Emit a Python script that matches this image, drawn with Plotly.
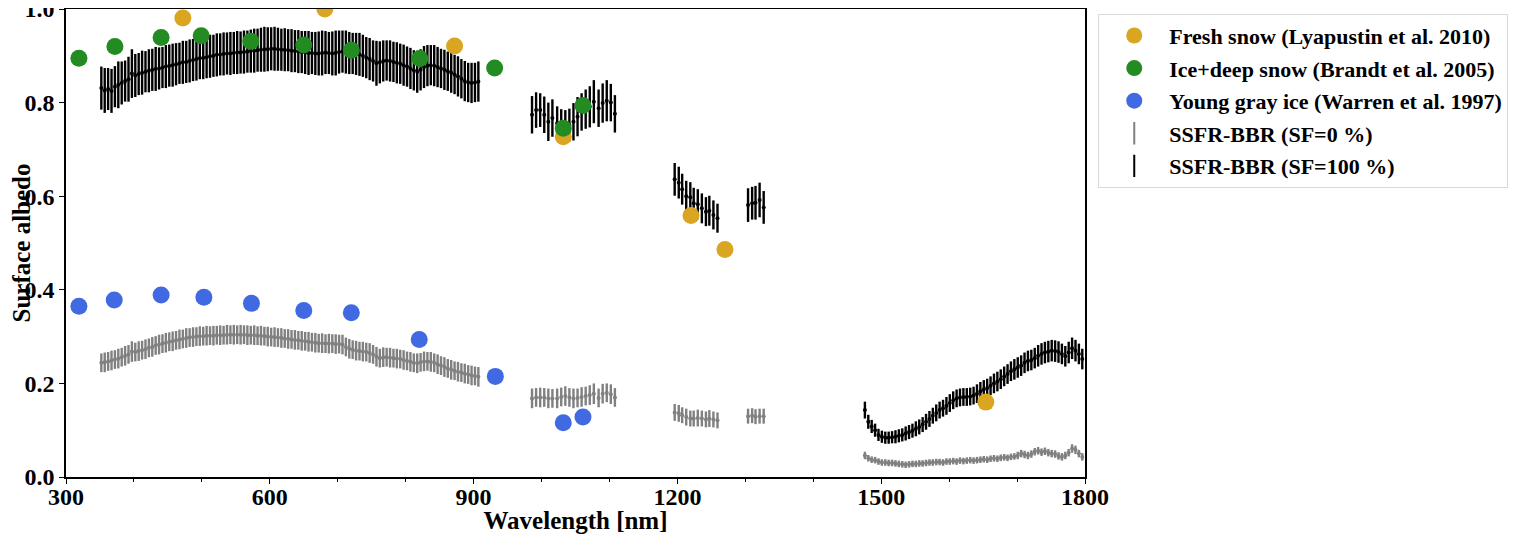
import plotly.graph_objects as go

# reference surface albedo spectra (circles)
fresh_wl = [472, 681, 872, 1032, 1220, 1270, 1654]
fresh_alb = [0.981, 1.0, 0.921, 0.727, 0.559, 0.486, 0.160]

ice_wl = [319, 372, 440, 499, 572, 650, 720, 821, 931, 1032, 1061]
ice_alb = [0.895, 0.920, 0.939, 0.943, 0.931, 0.923, 0.912, 0.894, 0.874, 0.745, 0.794]

gray_ice_wl = [319, 371, 440, 503, 573, 650, 720, 820, 932, 1032, 1061]
gray_ice_alb = [0.365, 0.378, 0.389, 0.384, 0.371, 0.356, 0.351, 0.294, 0.215, 0.116, 0.128]

# SSFR-BBR albedo, split into the five spectral windows
wl_1 = [352, 357, 362, 367, 372, 377, 382, 387, 392, 397,
        402, 407, 412, 417, 422, 427, 432, 437, 442, 447,
        452, 457, 462, 467, 472, 477, 482, 487, 492, 497,
        502, 507, 512, 517, 522, 527, 532, 537, 542, 547,
        552, 557, 562, 567, 572, 577, 582, 587, 592, 597,
        602, 607, 612, 617, 622, 627, 632, 637, 642, 647,
        652, 657, 662, 667, 672, 677, 682, 687, 692, 697,
        702, 707, 712, 717, 722, 727, 732, 737, 742, 747,
        752, 757, 762, 767, 772, 777, 782, 787, 792, 797,
        802, 807, 812, 817, 822, 827, 832, 837, 842, 847,
        852, 857, 862, 867, 872, 877, 882, 887, 892, 897,
        902, 907]
sf100_1 = [0.831, 0.826, 0.829, 0.825, 0.834, 0.838, 0.842, 0.846, 0.850, 0.862,
           0.858, 0.861, 0.864, 0.866, 0.868, 0.870, 0.872, 0.873, 0.875, 0.877,
           0.879, 0.880, 0.882, 0.884, 0.886, 0.887, 0.889, 0.891, 0.893, 0.895,
           0.896, 0.897, 0.899, 0.900, 0.902, 0.903, 0.904, 0.905, 0.905, 0.906,
           0.907, 0.907, 0.908, 0.909, 0.910, 0.911, 0.912, 0.913, 0.914, 0.914,
           0.915, 0.915, 0.914, 0.913, 0.913, 0.912, 0.911, 0.910, 0.909, 0.908,
           0.907, 0.906, 0.906, 0.905, 0.905, 0.906, 0.907, 0.906, 0.905, 0.906,
           0.908, 0.909, 0.908, 0.906, 0.905, 0.904, 0.903, 0.900, 0.896, 0.893,
           0.889, 0.884, 0.886, 0.889, 0.890, 0.889, 0.887, 0.885, 0.883, 0.880,
           0.877, 0.873, 0.869, 0.866, 0.870, 0.876, 0.879, 0.880, 0.879, 0.876,
           0.873, 0.870, 0.867, 0.864, 0.860, 0.856, 0.851, 0.846, 0.843, 0.842,
           0.843, 0.845]
sf100_err_1 = [0.046, 0.048, 0.045, 0.047, 0.044, 0.050, 0.046, 0.044, 0.048, 0.052,
               0.046, 0.045, 0.047, 0.044, 0.046, 0.045, 0.047, 0.045, 0.044, 0.046,
               0.045, 0.046, 0.045, 0.044, 0.046, 0.045, 0.046, 0.045, 0.046, 0.045,
               0.046, 0.045, 0.046, 0.045, 0.046, 0.045, 0.046, 0.045, 0.046, 0.045,
               0.046, 0.045, 0.046, 0.045, 0.046, 0.047, 0.046, 0.047, 0.048, 0.047,
               0.046, 0.047, 0.046, 0.045, 0.046, 0.045, 0.046, 0.045, 0.046, 0.045,
               0.046, 0.047, 0.045, 0.046, 0.047, 0.048, 0.046, 0.045, 0.047, 0.048,
               0.046, 0.045, 0.046, 0.045, 0.044, 0.045, 0.046, 0.045, 0.044, 0.045,
               0.044, 0.048, 0.045, 0.044, 0.043, 0.044, 0.043, 0.044, 0.043, 0.044,
               0.043, 0.044, 0.043, 0.045, 0.044, 0.045, 0.044, 0.043, 0.044, 0.043,
               0.042, 0.043, 0.042, 0.043, 0.042, 0.043, 0.042, 0.043, 0.042, 0.043,
               0.042, 0.043]
sf0_1 = [0.244, 0.245, 0.247, 0.249, 0.251, 0.253, 0.256, 0.259, 0.262, 0.268,
         0.267, 0.269, 0.271, 0.273, 0.276, 0.278, 0.281, 0.283, 0.285, 0.287,
         0.289, 0.290, 0.292, 0.294, 0.295, 0.297, 0.298, 0.299, 0.300, 0.301,
         0.301, 0.302, 0.302, 0.302, 0.303, 0.303, 0.303, 0.304, 0.304, 0.304,
         0.304, 0.304, 0.304, 0.303, 0.303, 0.303, 0.302, 0.302, 0.301, 0.300,
         0.299, 0.299, 0.298, 0.297, 0.296, 0.295, 0.294, 0.293, 0.292, 0.291,
         0.290, 0.289, 0.288, 0.287, 0.286, 0.286, 0.285, 0.285, 0.285, 0.284,
         0.284, 0.283, 0.278, 0.274, 0.272, 0.270, 0.269, 0.268, 0.267, 0.265,
         0.262, 0.257, 0.254, 0.256, 0.256, 0.255, 0.254, 0.253, 0.252, 0.250,
         0.248, 0.246, 0.244, 0.243, 0.245, 0.247, 0.247, 0.246, 0.244, 0.241,
         0.238, 0.235, 0.232, 0.229, 0.227, 0.225, 0.223, 0.221, 0.219, 0.217,
         0.216, 0.214]
sf0_err_1 = [0.020, 0.021, 0.020, 0.021, 0.020, 0.021, 0.020, 0.021, 0.020, 0.022,
             0.020, 0.021, 0.020, 0.021, 0.020, 0.021, 0.020, 0.021, 0.020, 0.021,
             0.020, 0.021, 0.020, 0.021, 0.020, 0.021, 0.020, 0.021, 0.020, 0.021,
             0.020, 0.021, 0.020, 0.021, 0.020, 0.021, 0.020, 0.021, 0.020, 0.021,
             0.020, 0.021, 0.020, 0.021, 0.020, 0.021, 0.020, 0.021, 0.020, 0.021,
             0.020, 0.021, 0.020, 0.021, 0.020, 0.021, 0.020, 0.021, 0.020, 0.021,
             0.020, 0.021, 0.020, 0.021, 0.020, 0.021, 0.020, 0.021, 0.020, 0.021,
             0.020, 0.021, 0.020, 0.021, 0.020, 0.021, 0.020, 0.021, 0.020, 0.021,
             0.020, 0.021, 0.020, 0.021, 0.020, 0.021, 0.020, 0.021, 0.020, 0.021,
             0.020, 0.021, 0.020, 0.021, 0.020, 0.021, 0.020, 0.021, 0.020, 0.021,
             0.020, 0.021, 0.020, 0.021, 0.020, 0.021, 0.020, 0.021, 0.020, 0.021,
             0.020, 0.021]

wl_2 = [986, 992, 998, 1004, 1010, 1016, 1023, 1029, 1035, 1041,
        1047, 1053, 1059, 1065, 1071, 1077, 1084, 1090, 1096, 1102, 1108]
sf100_2 = [0.774, 0.784, 0.784, 0.774, 0.759, 0.767, 0.756, 0.752, 0.750, 0.752,
           0.759, 0.770, 0.780, 0.786, 0.791, 0.802, 0.788, 0.799, 0.804, 0.800, 0.776]
sf100_err_2 = [0.040, 0.038, 0.036, 0.039, 0.041, 0.040, 0.036, 0.034, 0.034, 0.035,
               0.040, 0.042, 0.040, 0.042, 0.044, 0.046, 0.040, 0.042, 0.044, 0.040, 0.040]
sf0_2 = [0.168, 0.170, 0.170, 0.170, 0.168, 0.168, 0.168, 0.171, 0.173, 0.170,
         0.168, 0.169, 0.171, 0.173, 0.175, 0.178, 0.169, 0.178, 0.180, 0.177, 0.170]
sf0_err_2 = [0.021, 0.020, 0.021, 0.020, 0.021, 0.020, 0.021, 0.020, 0.021, 0.020,
             0.021, 0.020, 0.021, 0.020, 0.021, 0.022, 0.020, 0.021, 0.020, 0.021, 0.020]

wl_3 = [1196, 1202, 1207, 1213, 1219, 1224, 1230, 1236, 1242, 1247, 1253, 1259]
sf100_3 = [0.636, 0.629, 0.615, 0.600, 0.598, 0.585, 0.583, 0.574, 0.567, 0.569, 0.560, 0.553]
sf100_err_3 = [0.035, 0.034, 0.033, 0.033, 0.032, 0.033, 0.032, 0.032, 0.031, 0.032, 0.031, 0.031]
sf0_3 = [0.138, 0.136, 0.132, 0.128, 0.125, 0.125, 0.126, 0.125, 0.123, 0.125, 0.123, 0.121]
sf0_err_3 = [0.018, 0.018, 0.017, 0.018, 0.017, 0.017, 0.018, 0.017, 0.017, 0.018, 0.017, 0.017]

wl_4 = [1304, 1310, 1315, 1321, 1327]
sf100_4 = [0.581, 0.585, 0.586, 0.592, 0.576]
sf100_err_4 = [0.036, 0.035, 0.036, 0.037, 0.035]
sf0_4 = [0.130, 0.131, 0.129, 0.130, 0.130]
sf0_err_4 = [0.016, 0.016, 0.016, 0.016, 0.016]

wl_5 = [1476, 1481, 1486, 1491, 1496, 1501, 1506, 1511, 1516, 1521,
        1526, 1531, 1536, 1541, 1546, 1551, 1556, 1561, 1566, 1571,
        1576, 1581, 1586, 1591, 1596, 1601, 1606, 1611, 1616, 1621,
        1626, 1631, 1636, 1641, 1646, 1651, 1656, 1661, 1666, 1671,
        1676, 1681, 1686, 1691, 1696, 1701, 1706, 1711, 1716, 1721,
        1726, 1731, 1736, 1741, 1746, 1751, 1756, 1761, 1766, 1771,
        1776, 1781, 1786, 1791, 1796]
sf100_5 = [0.143, 0.118, 0.108, 0.100, 0.090, 0.086, 0.084, 0.084, 0.085, 0.086,
           0.088, 0.090, 0.093, 0.096, 0.099, 0.103, 0.107, 0.112, 0.118, 0.124,
           0.131, 0.137, 0.143, 0.147, 0.152, 0.158, 0.164, 0.168, 0.170, 0.171,
           0.171, 0.172, 0.174, 0.178, 0.183, 0.187, 0.190, 0.195, 0.200, 0.204,
           0.209, 0.215, 0.220, 0.226, 0.230, 0.234, 0.238, 0.244, 0.248, 0.250,
           0.254, 0.259, 0.263, 0.266, 0.268, 0.270, 0.269, 0.267, 0.263, 0.258,
           0.266, 0.275, 0.270, 0.263, 0.252]
sf100_err_5 = [0.018, 0.015, 0.014, 0.014, 0.013, 0.013, 0.013, 0.013, 0.013, 0.014,
               0.014, 0.014, 0.015, 0.015, 0.015, 0.016, 0.016, 0.016, 0.017, 0.017,
               0.017, 0.018, 0.018, 0.018, 0.019, 0.019, 0.019, 0.019, 0.019, 0.019,
               0.019, 0.019, 0.019, 0.020, 0.020, 0.020, 0.020, 0.020, 0.021, 0.021,
               0.021, 0.021, 0.021, 0.021, 0.022, 0.022, 0.022, 0.022, 0.022, 0.022,
               0.022, 0.023, 0.023, 0.023, 0.023, 0.023, 0.023, 0.023, 0.022, 0.022,
               0.023, 0.023, 0.023, 0.022, 0.022]
sf0_5 = [0.046, 0.040, 0.037, 0.036, 0.033, 0.031, 0.031, 0.030, 0.030, 0.029,
         0.028, 0.027, 0.026, 0.027, 0.028, 0.028, 0.029, 0.029, 0.030, 0.031,
         0.031, 0.032, 0.032, 0.031, 0.033, 0.033, 0.034, 0.033, 0.035, 0.034,
         0.035, 0.036, 0.035, 0.036, 0.037, 0.038, 0.037, 0.039, 0.040, 0.039,
         0.041, 0.042, 0.041, 0.043, 0.044, 0.046, 0.050, 0.048, 0.046, 0.049,
         0.054, 0.056, 0.053, 0.055, 0.052, 0.050, 0.049, 0.045, 0.043, 0.046,
         0.052, 0.061, 0.058, 0.050, 0.043]
sf0_err_5 = [0.008, 0.007, 0.007, 0.007, 0.007, 0.007, 0.007, 0.007, 0.007, 0.007,
             0.007, 0.007, 0.007, 0.007, 0.007, 0.007, 0.007, 0.007, 0.007, 0.007,
             0.007, 0.007, 0.007, 0.007, 0.007, 0.007, 0.007, 0.007, 0.007, 0.007,
             0.007, 0.007, 0.007, 0.007, 0.007, 0.007, 0.007, 0.007, 0.007, 0.007,
             0.007, 0.007, 0.007, 0.007, 0.007, 0.008, 0.008, 0.008, 0.008, 0.008,
             0.008, 0.008, 0.008, 0.008, 0.008, 0.008, 0.008, 0.008, 0.008, 0.008,
             0.008, 0.009, 0.009, 0.008, 0.008]

wl = wl_1 + wl_2 + wl_3 + wl_4 + wl_5
sf100 = sf100_1 + sf100_2 + sf100_3 + sf100_4 + sf100_5
sf100_err = sf100_err_1 + sf100_err_2 + sf100_err_3 + sf100_err_4 + sf100_err_5
sf0 = sf0_1 + sf0_2 + sf0_3 + sf0_4 + sf0_5
sf0_err = sf0_err_1 + sf0_err_2 + sf0_err_3 + sf0_err_4 + sf0_err_5

FONT = "Liberation Serif"

fig = go.Figure()

# SSFR error bars (drawn first so the circles sit on top)
fig.add_trace(go.Scatter(x=wl, y=sf0, mode="markers", showlegend=False,
                         marker=dict(color="gray", size=4),
                         error_y=dict(type="data", array=sf0_err, color="gray",
                                      thickness=2.4, width=0)))
fig.add_trace(go.Scatter(x=wl, y=sf100, mode="markers", showlegend=False,
                         marker=dict(color="black", size=4),
                         error_y=dict(type="data", array=sf100_err, color="black",
                                      thickness=2.4, width=0)))

fig.add_trace(go.Scatter(x=fresh_wl, y=fresh_alb, mode="markers",
                         name="Fresh snow (Lyapustin et al. 2010)", legendgroup="a",
                         marker=dict(color="goldenrod", size=17)))
fig.add_trace(go.Scatter(x=ice_wl, y=ice_alb, mode="markers",
                         name="Ice+deep snow (Brandt et al. 2005)", legendgroup="b",
                         marker=dict(color="forestgreen", size=17)))
fig.add_trace(go.Scatter(x=gray_ice_wl, y=gray_ice_alb, mode="markers",
                         name="Young gray ice (Warren et al. 1997)", legendgroup="c",
                         marker=dict(color="royalblue", size=17)))

# legend-only entries for the error bar series
fig.add_trace(go.Scatter(x=[None], y=[None], mode="markers",
                         name="SSFR-BBR (SF=0 %)", legendgroup="d",
                         marker=dict(symbol="line-ns", size=16,
                                     line=dict(color="gray", width=2))))
fig.add_trace(go.Scatter(x=[None], y=[None], mode="markers",
                         name="SSFR-BBR (SF=100 %)", legendgroup="e",
                         marker=dict(symbol="line-ns", size=16,
                                     line=dict(color="black", width=2))))

# the page body adds an 8 px offset, so the figure is 8 px smaller
fig.update_layout(
    width=1512, height=526,
    margin=dict(l=58, r=435, t=1, b=57, autoexpand=False),
    plot_bgcolor="white", paper_bgcolor="white",
    font=dict(family=FONT, size=24, color="black", weight="bold"),
    legend=dict(x=1.013, y=0.99, xanchor="left", yanchor="top",
                bgcolor="white", bordercolor="#d9d9d9", borderwidth=1,
                font=dict(family=FONT, size=22, weight="bold"),
                itemwidth=60, tracegroupgap=1),
)
fig.update_xaxes(range=[300, 1800], tickvals=[300, 600, 900, 1200, 1500, 1800],
                 ticks="outside", ticklen=5, tickwidth=1.3, tickcolor="black",
                 tickfont=dict(family=FONT, size=24, weight="bold"),
                 minor=dict(tickvals=[400, 500, 700, 800, 1000, 1100, 1300, 1400, 1600, 1700],
                            ticks="outside", ticklen=3, tickcolor="black"),
                 showline=True, linecolor="black", linewidth=1.5, mirror=True,
                 showgrid=False, zeroline=False, automargin=False,
                 ticklabeloverflow="allow", ticklabelstandoff=-8,
                 title=dict(text="Wavelength [nm]", standoff=0,
                            font=dict(family=FONT, size=25, weight="bold")))
fig.update_yaxes(range=[0, 1], tickvals=[0, 0.2, 0.4, 0.6, 0.8, 1.0], tickformat=".1f",
                 ticks="outside", ticklen=5, tickwidth=1.3, tickcolor="black",
                 tickfont=dict(family=FONT, size=24, weight="bold"),
                 showline=True, linecolor="black", linewidth=1.5, mirror=True,
                 showgrid=False, zeroline=False, automargin=False,
                 ticklabeloverflow="allow",
                 title=dict(text="Surface albedo", standoff=0,
                            font=dict(family=FONT, size=25, weight="bold")))

fig.write_html("out.html")
